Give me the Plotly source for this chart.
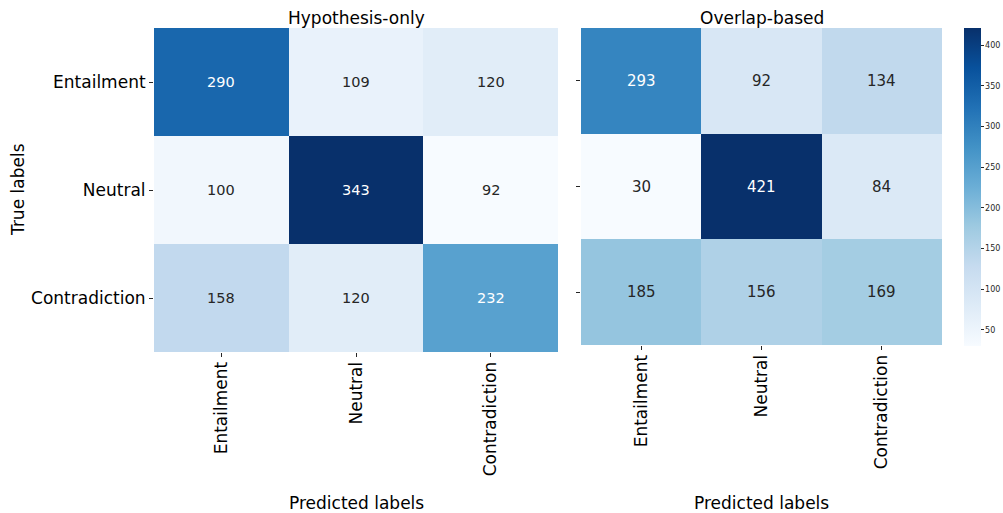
import plotly.graph_objects as go

labels = ["Entailment", "Neutral", "Contradiction"]
titles = ["Hypothesis-only", "Overlap-based"]
hyp_only = [[290, 109, 120],
            [100, 343, 92],
            [158, 120, 232]]
overlap = [[293, 92, 134],
           [30, 421, 84],
           [185, 156, 169]]
cbar_ticks = [50, 100, 150, 200, 250, 300, 350, 400]

W, H = 1003, 513
FONT = "DejaVu Sans"
DARK = "#262626"

blues = [(247, 251, 255), (222, 235, 247), (198, 219, 239), (158, 202, 225),
         (107, 174, 214), (66, 146, 198), (33, 113, 181), (8, 81, 156), (8, 48, 107)]
colorscale = [[i / 8, "rgb(%d,%d,%d)" % c] for i, c in enumerate(blues)]


def interp(t):
    t = min(max(t, 0), 1) * 8
    i = min(int(t), 7)
    f = t - i
    a, b = blues[i], blues[i + 1]
    return [a[k] + (b[k] - a[k]) * f for k in range(3)]


def lum(rgb):
    out = []
    for c in rgb:
        c = c / 255
        out.append(c / 12.92 if c <= 0.03928 else ((c + 0.055) / 1.055) ** 2.4)
    return 0.2126 * out[0] + 0.7152 * out[1] + 0.0722 * out[2]


def px_x(p):
    return p / W


def px_y(p):
    return 1 - p / H


fig = go.Figure()

panels = [
    dict(z=hyp_only, xd=[px_x(154), px_x(558)], yd=[px_y(352), px_y(28)], font=14.5),
    dict(z=overlap, xd=[px_x(581), px_x(942)], yd=[px_y(345), px_y(28)], font=15),
]

annotations = []
for i, p in enumerate(panels):
    z = p["z"]
    flat = [v for row in z for v in row]
    zmin, zmax = min(flat), max(flat)
    xa = "x" if i == 0 else "x2"
    ya = "y" if i == 0 else "y2"
    trace = go.Heatmap(
        z=z, x=labels, y=labels, xaxis=xa, yaxis=ya,
        zmin=zmin, zmax=zmax, colorscale=colorscale,
        showscale=(i == 1), hoverinfo="skip", xgap=0, ygap=0,
    )
    if i == 1:
        trace.colorbar = dict(
            x=px_x(964), xanchor="left", xpad=0, ypad=0,
            y=px_y(346), yanchor="bottom", len=(346 - 28) / H, lenmode="fraction",
            thickness=17, thicknessmode="pixels", outlinewidth=0,
            tickvals=cbar_ticks, ticks="outside", ticklen=3, tickwidth=1,
            tickcolor=DARK, tickfont=dict(family=FONT, size=8, color=DARK),
        )
    fig.add_trace(trace)
    for r, row in enumerate(z):
        for c, v in enumerate(row):
            t = (v - zmin) / (zmax - zmin)
            col = "white" if lum(interp(t)) < 0.408 else DARK
            annotations.append(dict(
                x=labels[c], y=labels[r], xref=xa, yref=ya, text=str(v),
                showarrow=False, font=dict(family=FONT, size=p["font"], color=col)))
    # subplot title
    annotations.append(dict(
        x=(p["xd"][0] + p["xd"][1]) / 2, y=px_y(18), xref="paper", yref="paper",
        text=titles[i], showarrow=False, xanchor="center", yanchor="middle",
        font=dict(family=FONT, size=17, color="black")))
    annotations.append(dict(
        x=(p["xd"][0] + p["xd"][1]) / 2, y=px_y(503), xref="paper", yref="paper",
        text="Predicted labels", showarrow=False, xanchor="center", yanchor="middle",
        font=dict(family=FONT, size=17, color="black")))

annotations.append(dict(
    x=px_x(18), y=px_y(190), xref="paper", yref="paper", text="True labels",
    showarrow=False, textangle=-90, xanchor="center", yanchor="middle",
    font=dict(family=FONT, size=17, color="black")))

axis_common = dict(showgrid=False, zeroline=False, showline=False, ticks="outside",
                   ticklen=4, tickwidth=1, tickcolor=DARK, automargin=False,
                   tickfont=dict(family=FONT, size=17, color="black"), type="category")

fig.update_layout(
    width=W, height=H, margin=dict(l=0, r=0, t=0, b=0),
    paper_bgcolor="white", plot_bgcolor="white",
    xaxis=dict(domain=panels[0]["xd"], anchor="y", tickangle=-90,
               ticklabelstandoff=-2, **axis_common),
    yaxis=dict(domain=panels[0]["yd"], anchor="x", autorange="reversed", **axis_common),
    xaxis2=dict(domain=panels[1]["xd"], anchor="y2", tickangle=-90,
                ticklabelstandoff=-2, **axis_common),
    yaxis2=dict(domain=panels[1]["yd"], anchor="x2", autorange="reversed",
                showticklabels=False, **axis_common),
    annotations=annotations,
    font=dict(family=FONT),
)

fig.write_html("out.html", config={"displayModeBar": False},
               post_script="document.body.style.margin='0';document.body.style.overflow='hidden';")
